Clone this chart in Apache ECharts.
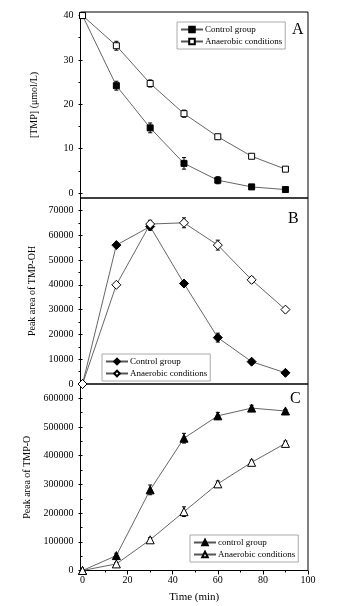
<!DOCTYPE html>
<html>
<head>
<meta charset="utf-8">
<script src="https://cdn.jsdelivr.net/npm/echarts@6/dist/echarts.min.js"></script>
<style>
  html, body { margin: 0; padding: 0; background: #fff; }
  #chart { width: 338px; height: 606px; }
</style>
</head>
<body>
<div id="chart"></div>
<script>
  // sampling times (min)
  const xTimes = [0, 15, 30, 45, 60, 75, 90]
  const xTicks = [0, 20, 40, 60, 80, 100]
  const xMinor = [10, 30, 50, 70, 90]

  // A: [TMP] (umol/L)
  const tmpControl = [40, 24.2, 14.7, 6.7, 2.9, 1.4, 0.8]
  const tmpControlErr = [0, 1.0, 1.1, 1.3, 0.8, 0.3, 0.3]
  const tmpAnaerobic = [40, 33.2, 24.7, 17.9, 12.7, 8.3, 5.4]
  const tmpAnaerobicErr = [0, 1.0, 0.8, 0.8, 0.5, 0.4, 0.3]
  const aTicks = [0, 10, 20, 30, 40]
  const aMinor = [5, 15, 25, 35]

  // B: peak area of TMP-OH
  const ohControl = [0, 56000, 63500, 40500, 18700, 9000, 4500]
  const ohControlErr = [0, 1000, 1500, 1000, 1800, 800, 600]
  const ohAnaerobic = [0, 40000, 64500, 65000, 56000, 42000, 30000]
  const ohAnaerobicErr = [0, 0, 1500, 2000, 2000, 1200, 800]
  const bTicks = [0, 10000, 20000, 30000, 40000, 50000, 60000, 70000]
  const bMinor = [5000, 15000, 25000, 35000, 45000, 55000, 65000]

  // C: peak area of TMP-O
  const oControl = [0, 52000, 281000, 461000, 539000, 566000, 556000]
  const oControlErr = [0, 8000, 17000, 17000, 12000, 10000, 5000]
  const oAnaerobic = [0, 23000, 107000, 205000, 302000, 377000, 443000]
  const oAnaerobicErr = [0, 5000, 8000, 17000, 10000, 8000, 8000]
  const cTicks = [0, 100000, 200000, 300000, 400000, 500000, 600000]
  const cMinor = [50000, 150000, 250000, 350000, 450000, 550000]

  const FONT = 'Liberation Serif'
  const legendNames = {
    'A-ctrl': 'Control group',
    'A-ana': 'Anaerobic conditions',
    'B-ctrl': 'Control group',
    'B-ana': 'Anaerobic conditions',
    'C-ctrl': 'control group',
    'C-ana': 'Anaerobic conditions',
  }

  const pairs = (ys) => xTimes.map((x, i) => [x, ys[i]])
  const errPairs = (ys, es) => xTimes.map((x, i) => [x, ys[i] - es[i], ys[i] + es[i]]).filter((d, i) => es[i] > 0)

  const grids = [
    { left: 80.5, right: 30, top: 12, height: 186 },
    { left: 80.5, right: 30, top: 198, height: 186 },
    { left: 80.5, right: 30, top: 384, height: 186.5 },
  ].map(g => ({ ...g, show: true, borderColor: '#000', borderWidth: 1, backgroundColor: 'transparent' }))

  const xBase = (gi) => ({
    type: 'value', gridIndex: gi, min: -0.9, max: 100, position: 'bottom',
    axisLine: { show: false }, splitLine: { show: false },
    axisTick: { show: false }, axisLabel: { show: false },
  })

  const xAxis = [
    xBase(0),
    xBase(1),
    {
      ...xBase(2),
      name: 'Time (min)', nameLocation: 'middle', nameGap: 21,
      nameTextStyle: { fontFamily: FONT, fontSize: 11, color: '#000' },
      axisTick: { show: true, length: 4, customValues: xTicks, lineStyle: { color: '#000' } },
      axisLabel: { show: true, customValues: xTicks, margin: 5, fontFamily: FONT, fontSize: 10, color: '#000' },
    },
    {
      ...xBase(2),
      axisTick: { show: true, length: 2, customValues: xMinor, lineStyle: { color: '#000' } },
    },
  ]

  const yMain = (gi, min, max, ticks, name) => ({
    type: 'value', gridIndex: gi, min: min, max: max, position: 'left',
    name: name, nameLocation: 'middle', nameGap: 41,
    nameTextStyle: { fontFamily: FONT, fontSize: 10, color: '#000' },
    axisLine: { show: false }, splitLine: { show: false },
    axisTick: { show: true, length: 4, customValues: ticks, lineStyle: { color: '#000' } },
    axisLabel: {
      customValues: ticks, margin: 7, fontFamily: FONT, fontSize: 10, color: '#000',
      formatter: (v) => String(v),
    },
  })
  const yMinor = (gi, min, max, ticks) => ({
    type: 'value', gridIndex: gi, min: min, max: max, position: 'left',
    axisLine: { show: false }, splitLine: { show: false },
    axisLabel: { show: false },
    axisTick: { show: true, length: 2, customValues: ticks, lineStyle: { color: '#000' } },
  })

  const yAxis = [
    yMain(0, -1.1, 40.8, aTicks, '[TMP] (\u03bcmol/L)'),
    yMain(1, 0, 75000, bTicks, 'Peak area of TMP-OH'),
    yMain(2, 0, 650000, cTicks, 'Peak area of TMP-O'),
    yMinor(0, -1.1, 40.8, aMinor),
    yMinor(1, 0, 75000, bMinor),
    yMinor(2, 0, 650000, cMinor),
  ]

  const lineSeries = (name, xi, yi, ys, symbol, size, filled) => ({
    name: name, type: 'line', xAxisIndex: xi, yAxisIndex: yi,
    data: pairs(ys), symbol: symbol, symbolSize: size, showAllSymbol: true,
    z: 3,
    lineStyle: { color: '#555', width: 0.9 },
    itemStyle: { color: filled ? '#000' : '#fff', borderColor: '#000', borderWidth: 1 },
    emphasis: { disabled: true },
  })

  const errSeries = (xi, yi, ys, es) => ({
    type: 'custom', xAxisIndex: xi, yAxisIndex: yi, z: 2,
    data: errPairs(ys, es),
    renderItem: (params, api) => {
      const lo = api.coord([api.value(0), api.value(1)])
      const hi = api.coord([api.value(0), api.value(2)])
      const s = { stroke: '#000', lineWidth: 1 }
      return {
        type: 'group',
        children: [
          { type: 'line', shape: { x1: lo[0], y1: lo[1], x2: hi[0], y2: hi[1] }, style: s },
          { type: 'line', shape: { x1: lo[0] - 2, y1: lo[1], x2: lo[0] + 2, y2: lo[1] }, style: s },
          { type: 'line', shape: { x1: hi[0] - 2, y1: hi[1], x2: hi[0] + 2, y2: hi[1] }, style: s },
        ],
      }
    },
  })

  const series = [
    errSeries(0, 0, tmpControl, tmpControlErr),
    errSeries(0, 0, tmpAnaerobic, tmpAnaerobicErr),
    errSeries(1, 1, ohControl, ohControlErr),
    errSeries(1, 1, ohAnaerobic, ohAnaerobicErr),
    errSeries(2, 2, oControl, oControlErr),
    errSeries(2, 2, oAnaerobic, oAnaerobicErr),
    lineSeries('A-ctrl', 0, 0, tmpControl, 'rect', 6, true),
    lineSeries('A-ana', 0, 0, tmpAnaerobic, 'rect', 6, false),
    lineSeries('B-ctrl', 1, 1, ohControl, 'diamond', 9, true),
    lineSeries('B-ana', 1, 1, ohAnaerobic, 'diamond', 9, false),
    lineSeries('C-ctrl', 2, 2, oControl, 'triangle', 8, true),
    lineSeries('C-ana', 2, 2, oAnaerobic, 'triangle', 8, false),
  ]

  const legendBase = (names, left, top) => ({
    data: names, left: left, top: top, orient: 'vertical',
    itemWidth: 22, itemHeight: 7, itemGap: 3,
    padding: [3, 3, 3, 3],
    borderColor: '#aaa', borderWidth: 1,
    selectedMode: false,
    formatter: (n) => legendNames[n],
    textStyle: { fontFamily: FONT, fontSize: 9, color: '#000', padding: [0, 0, 0, -3] },
  })

  const option = {
    animation: false,
    backgroundColor: '#fff',
    grid: grids,
    xAxis: xAxis,
    yAxis: yAxis,
    title: [
      { text: 'A', left: 292, top: 22 },
      { text: 'B', left: 288, top: 211 },
      { text: 'C', left: 290, top: 391 },
    ].map(t => ({ ...t, textStyle: { fontFamily: FONT, fontSize: 16, fontWeight: 'normal', color: '#000' }, padding: 0 })),
    legend: [
      legendBase(['A-ctrl', 'A-ana'], 177, 22),
      legendBase(['B-ctrl', 'B-ana'], 102, 354),
      legendBase(['C-ctrl', 'C-ana'], 190, 535),
    ],
    series: series,
  }

  const myChart = echarts.init(document.getElementById('chart'))
  myChart.setOption(option)
</script>
</body>
</html>
